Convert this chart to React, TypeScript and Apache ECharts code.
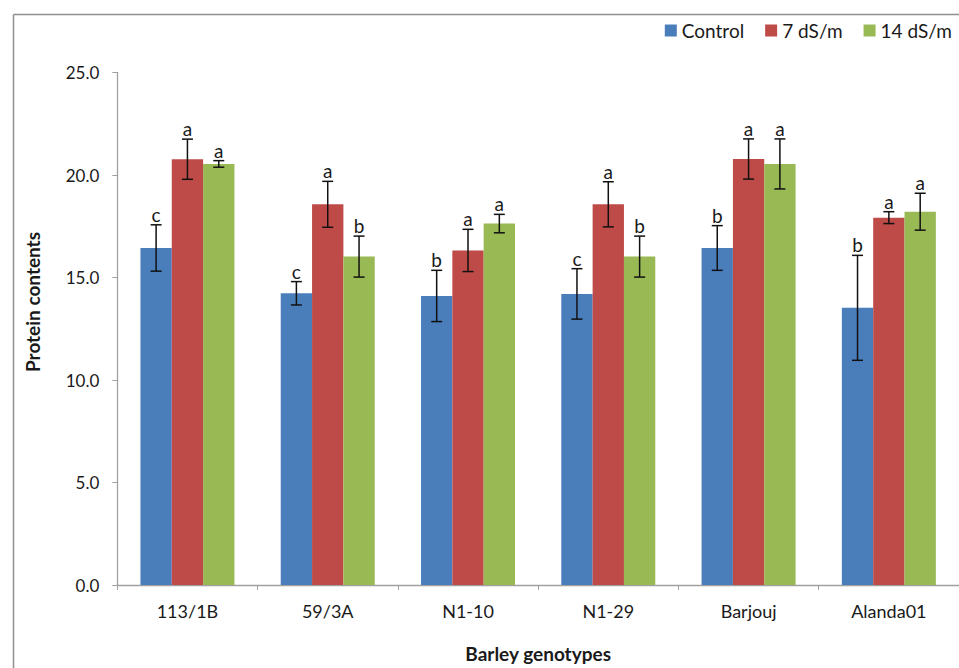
import React, { useEffect, useRef } from "react";
import * as echarts from "echarts";

// Barley genotypes and protein contents under three salinity levels
const categories = ["113/1B", "59/3A", "N1-10", "N1-29", "Barjouj", "Alanda01"];
const seriesNames = ["Control", "7 dS/m", "14 dS/m"];

const control = [16.44, 14.23, 14.1, 14.2, 16.44, 13.52];
const controlErr = [1.13, 0.57, 1.25, 1.23, 1.09, 2.56];
const controlLetters = ["c", "c", "b", "c", "b", "b"];

const salt7 = [20.77, 18.57, 16.32, 18.57, 20.78, 17.92];
const salt7Err = [0.98, 1.12, 1.03, 1.1, 0.98, 0.29];
const salt7Letters = ["a", "a", "a", "a", "a", "a"];

const salt14 = [20.54, 16.02, 17.63, 16.02, 20.54, 18.21];
const salt14Err = [0.16, 1.0, 0.45, 1.0, 1.22, 0.9];
const salt14Letters = ["a", "b", "a", "b", "a", "a"];

const yTicks = [0, 5, 10, 15, 20, 25];

const colors = ["#4A7EBB", "#BE4B48", "#98B954"];
const FONT = "Lato";
const CATEGORY_GAP = 0.33;

function errorSeries(values: number[], errs: number[], letters: string[], k: number) {
  return {
    type: "custom",
    name: seriesNames[k] + " error",
    z: 5,
    silent: true,
    encode: { x: 0, y: 1 },
    data: values.map((v, i) => [i, v, errs[i]]),
    renderItem: (params: any, api: any) => {
      const idx = api.value(0);
      const v = api.value(1);
      const e = api.value(2);
      const band = api.size([1, 0])[0];
      const bw = (band * (1 - CATEGORY_GAP)) / 3;
      const cx = api.coord([idx, 0])[0] + (k - 1) * bw;
      const top = api.coord([idx, v + e])[1];
      const bot = api.coord([idx, v - e])[1];
      const cap = 5.5;
      const lineStyle = { stroke: "#111", lineWidth: 1.5 };
      return {
        type: "group",
        children: [
          { type: "line", shape: { x1: cx, y1: top, x2: cx, y2: bot }, style: lineStyle },
          { type: "line", shape: { x1: cx - cap, y1: top, x2: cx + cap, y2: top }, style: lineStyle },
          { type: "line", shape: { x1: cx - cap, y1: bot, x2: cx + cap, y2: bot }, style: lineStyle },
          {
            type: "text",
            x: cx,
            y: top - 1,
            style: {
              text: letters[params.dataIndex],
              fill: "#1a1a1a",
              font: `19px ${FONT}`,
              textAlign: "center",
              textVerticalAlign: "bottom",
            },
          },
        ],
      };
    },
  };
}

export default function App() {
  const ref = useRef<HTMLDivElement>(null);

  useEffect(() => {
    if (!ref.current) return;
    const chart = echarts.init(ref.current, undefined, { renderer: "svg" });
    const barBase = {
      type: "bar",
      barGap: "0%",
      barCategoryGap: `${CATEGORY_GAP * 100}%`,
    };
    chart.setOption({
      animation: false,
      backgroundColor: "#ffffff",
      color: colors,
      textStyle: { fontFamily: FONT },
      graphic: [
        {
          type: "line",
          shape: { x1: 13.5, y1: 14.5, x2: 959, y2: 14.5 },
          style: { stroke: "#8f8f8f", lineWidth: 1.5 },
        },
        {
          type: "line",
          shape: { x1: 13.5, y1: 14.5, x2: 13.5, y2: 668 },
          style: { stroke: "#8f8f8f", lineWidth: 1.5 },
        },
        {
          // y-axis title, centred a little above the plot's middle
          type: "text",
          x: 32,
          y: 302,
          rotation: Math.PI / 2,
          style: {
            text: "Protein contents",
            font: `bold 19px ${FONT}`,
            fill: "#1a1a1a",
            textAlign: "center",
            textVerticalAlign: "middle",
          },
        },
      ],
      legend: {
        data: seriesNames,
        right: 7,
        top: 21,
        padding: 0,
        icon: "rect",
        itemWidth: 12,
        itemHeight: 12,
        itemGap: 21,
        textStyle: { fontFamily: FONT, fontSize: 19, color: "#1a1a1a" },
      },
      grid: { left: 117.3, top: 72.5, width: 845, height: 518 },
      xAxis: {
        type: "category",
        data: categories,
        name: "Barley genotypes",
        nameLocation: "middle",
        nameGap: 59,
        nameTextStyle: { fontFamily: FONT, fontWeight: "bold", fontSize: 19, color: "#1a1a1a" },
        axisLine: { lineStyle: { color: "#a0a0a0", width: 1.3 } },
        axisTick: { show: true, length: 5, lineStyle: { color: "#a0a0a0" } },
        axisLabel: { fontFamily: FONT, fontSize: 18, color: "#1a1a1a", margin: 17 },
      },
      yAxis: {
        type: "value",
        min: yTicks[0],
        max: yTicks[yTicks.length - 1],
        interval: yTicks[1] - yTicks[0],
        axisLine: { show: true, lineStyle: { color: "#a0a0a0", width: 1.3 } },
        axisTick: { show: true, length: 5, lineStyle: { color: "#a0a0a0" } },
        splitLine: { show: false },
        axisLabel: {
          fontFamily: FONT,
          fontSize: 17,
          color: "#1a1a1a",
          margin: 18,
          formatter: (v: number) => v.toFixed(1),
        },
      },
      series: [
        { ...barBase, name: seriesNames[0], data: control },
        { ...barBase, name: seriesNames[1], data: salt7 },
        { ...barBase, name: seriesNames[2], data: salt14 },
        errorSeries(control, controlErr, controlLetters, 0),
        errorSeries(salt7, salt7Err, salt7Letters, 1),
        errorSeries(salt14, salt14Err, salt14Letters, 2),
      ],
    });
    return () => chart.dispose();
  }, []);

  return (
    <div
      ref={ref}
      style={{ position: "fixed", left: 0, top: 0, width: 959, height: 668, background: "#fff" }}
    />
  );
}
